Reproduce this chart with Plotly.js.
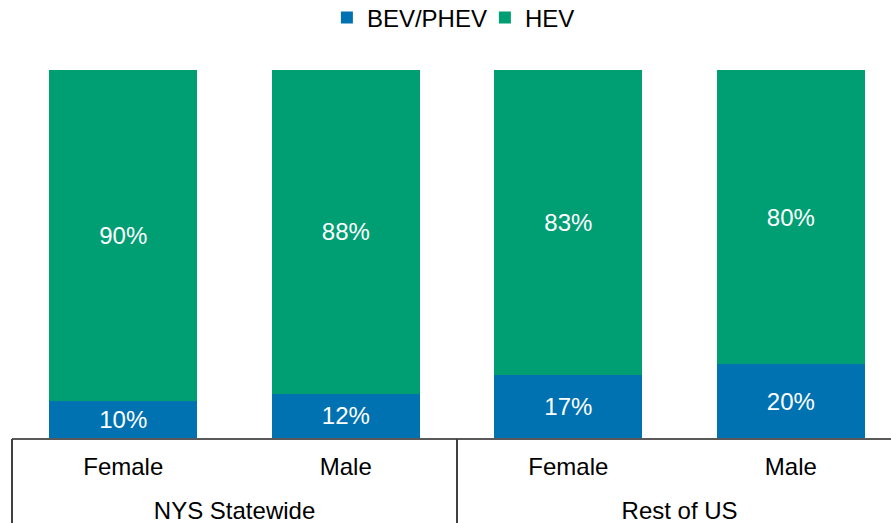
<!DOCTYPE html>
<html>
<head>
<meta charset="utf-8">
<script src="https://cdn.plot.ly/plotly-3.0.1.min.js"></script>
<style>html,body{margin:0;padding:0;background:#fff;}#chart{width:891px;height:523px;}</style>
</head>
<body>
<div id="chart"></div>
<script>
var groups = ["NYS Statewide", "NYS Statewide", "Rest of US", "Rest of US"];
var genders = ["Female", "Male", "Female", "Male"];
var groupLabels = ["NYS Statewide", "Rest of US"];
var bevPhev = [10, 12, 17, 20];
var hev = [90, 88, 83, 80];
var seriesNames = ["BEV/PHEV", "HEV"];
var colors = ["#0072B2", "#009E73"];

var keys = groups.map(function (g, i) { return g + " | " + genders[i]; });
// group centre and boundary positions on the category index scale
var groupCentres = [0.5, 2.5];
var dividers = [-0.5, 1.5, 3.5];

var font = "Liberation Sans, Arial, sans-serif";
var fs = 24;
var traces = [bevPhev, hev].map(function (vals, i) {
  return {
    type: "bar",
    name: seriesNames[i],
    x: keys,
    y: vals,
    marker: {color: colors[i], line: {width: 0}},
    texttemplate: "%{y}%",
    textposition: "inside",
    insidetextanchor: "middle",
    textangle: 0,
    constraintext: "none",
    textfont: {family: font, size: fs, color: "#ffffff"},
    hoverinfo: "skip"
  };
});
// empty helper traces so the group-label and divider axes are drawn
traces.push({type: "scatter", x: [], y: [], xaxis: "x2", yaxis: "y", showlegend: false, hoverinfo: "skip"});
traces.push({type: "scatter", x: [], y: [], xaxis: "x3", yaxis: "y", showlegend: false, hoverinfo: "skip"});

var xr = [-0.5, 3.45];
var layout = {
  width: 891, height: 523,
  margin: {l: 12, r: 0, t: 70, b: 85},
  paper_bgcolor: "#ffffff", plot_bgcolor: "#ffffff",
  barmode: "stack",
  bargap: 0.335,
  font: {family: font, size: fs, color: "#000000"},
  showlegend: true,
  legend: {orientation: "h", x: 0.538, xanchor: "center", yref: "container", y: 0.9656, yanchor: "middle",
           font: {family: font, size: fs, color: "#000000"}, itemwidth: 30, traceorder: "normal",
           entrywidth: 113, entrywidthmode: "pixels"},
  xaxis: {
    type: "category",
    range: xr,
    tickmode: "array", tickvals: keys, ticktext: genders,
    showline: true, linecolor: "#595959", linewidth: 2,
    ticks: "", showgrid: false, zeroline: false,
    ticklabelstandoff: 6,
    tickfont: {family: font, size: fs, color: "#000000"}
  },
  xaxis2: {
    type: "linear", overlaying: "x", anchor: "y", side: "bottom",
    range: xr,
    tickmode: "array", tickvals: groupCentres, ticktext: groupLabels,
    showline: false, showgrid: false, zeroline: false, ticks: "",
    ticklabelstandoff: 56,
    tickfont: {family: font, size: fs, color: "#000000"}
  },
  xaxis3: {
    type: "linear", overlaying: "x", anchor: "y", side: "bottom",
    range: xr,
    tickmode: "array", tickvals: dividers, ticktext: ["", "", ""],
    showticklabels: false,
    showline: false, showgrid: false, zeroline: false,
    ticks: "outside", ticklen: 86, tickwidth: 2, tickcolor: "#404040"
  },
  yaxis: {range: [0, 100], visible: false, showgrid: false, zeroline: false, fixedrange: true}
};

Plotly.newPlot("chart", traces, layout, {displayModeBar: false, staticPlot: true});
</script>
</body>
</html>
